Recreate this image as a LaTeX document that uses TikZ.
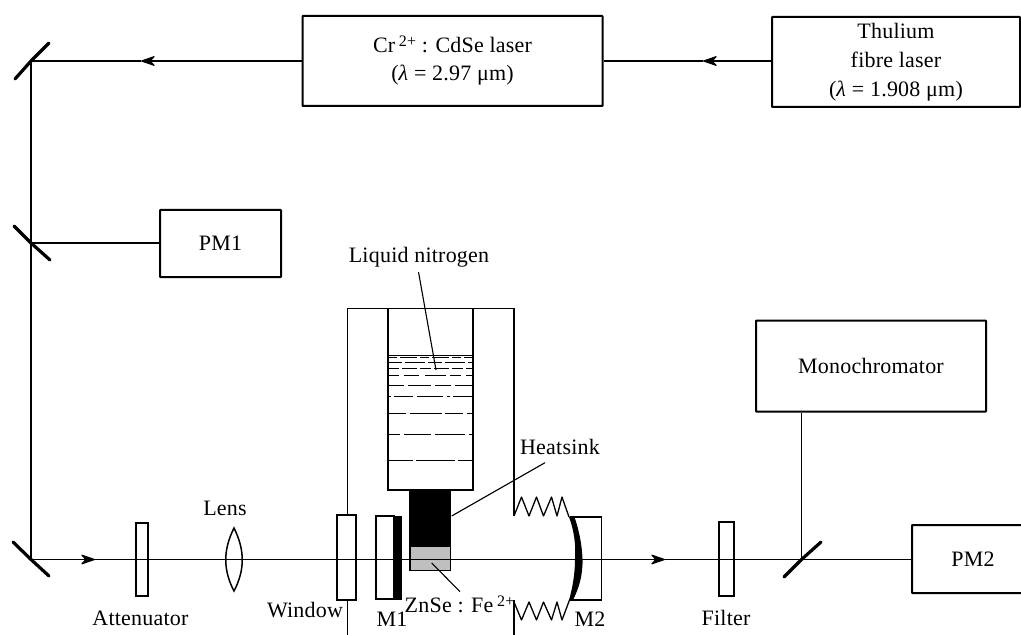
\documentclass[tikz,border=0pt]{standalone}
\usepackage{fontspec}
\setmainfont[LetterSpace=1]{Liberation Serif}
\usetikzlibrary{arrows.meta}
\newcommand{\supr}[1]{\raisebox{0.6ex}{\fontsize{16bp}{16bp}\selectfont #1}}
\tikzset{
  x=1bp,y=-1bp,
  label/.style={inner sep=0pt,font=\fontsize{22bp}{24bp}\selectfont,align=center},
  instr/.style={draw,line width=2bp,inner sep=0pt,rounded corners=0.5bp,font=\fontsize{22bp}{29bp}\selectfont,align=center},
  optic/.style={draw,line width=1.5bp,inner sep=0pt},
  beam/.style={line width=1.1bp},
  beamtip/.style={line width=1.1bp,-{Stealth[length=16bp,width=11bp,inset=5bp,round]}},
  wall/.style={line width=1.4bp},
  mirror/.style={line width=3.2bp,line cap=round},
  leader/.style={line width=1.1bp},
  level/.style={line width=0.9bp},
}
\begin{document}
\begin{tikzpicture}
\useasboundingbox (0,0) rectangle (1021,635);
% beam junction points
\coordinate (mt) at (31,61);
\coordinate (mm) at (31,243);
\coordinate (mb) at (31,559.5);
\coordinate (ms) at (801.5,559.5);
\coordinate (a1) at (141,61);
\coordinate (a2) at (703,61);
\coordinate (a3) at (95,559.5);
\coordinate (a4) at (665,559.5);
% instruments
\node[instr,minimum width=300bp,minimum height=90bp] (cr) at (452.5,61) {Cr\,\supr{2+} : CdSe laser\\[-1bp](\textit{λ} = 2.97 μm)};
\node[instr,minimum width=248bp,minimum height=90bp] (tm) at (896,62) {Thulium\\fibre laser\\(\textit{λ} = 1.908 μm)};
\node[instr,minimum width=121bp,minimum height=67bp] (pmone) at (220.5,243.5) {PM1};
\node[instr,minimum width=230bp,minimum height=91bp] (mono) at (871,366) {Monochromator};
\node[instr,minimum width=122bp,minimum height=68bp] (pmtwo) at (973,559) {PM2};
% optics
\node[optic,minimum width=12bp,minimum height=73bp] (att) at (142,559.5) {};
\node[optic,minimum width=15bp,minimum height=74bp] (flt) at (726.5,559) {};
\node[optic,minimum width=19bp,minimum height=85bp] (win) at (346.5,557.5) {};
\node[optic,minimum width=18bp,minimum height=83bp] (mone) at (385,557.5) {};
% beams
\draw[beamtip] (tm.west |- a2) -- (a2);
\draw[beam] (a2) -- (cr.east |- a2);
\draw[beamtip] (cr.west |- a1) -- (a1);
\draw[beam] (a1) -- (mt);
\draw[beam] (mt) -- (mb);
\draw[beam] (mm) -- (pmone.west |- mm);
\draw[beamtip] (mb) -- (a3);
\draw[beamtip] (a3) -- (a4);
\draw[beam] (a4) -- (pmtwo.west |- a4);
\draw[beam] (ms) -- (ms |- mono.south);
% mirrors
\draw[mirror] (15,79) -- (mt) -- (49,43);
\draw[mirror] (14,226) -- (mm) -- (50,260);
\draw[mirror] (13,542) -- (mb) -- (49,576);
\draw[mirror] (784,577) -- (ms) -- (821,542);
% lens
\draw[line width=1.5bp] (234,528) .. controls (223,550) and (223,570) .. (234,591) .. controls (245,570) and (245,550) .. cycle;
% M1 coating
\fill[black] (394,516) rectangle (402,600);
% cryostat
\coordinate (vbl) at (347.5,635);
\coordinate (vbr) at (514,635);
\draw[wall] (347.5,515) -- (347.5,308.5) -- (514,308.5) -- (514,516);
\draw[wall] (347.5,600) -- (vbl);
\draw[wall] (514,600) -- (vbr);
\draw[wall] (388,308.5) rectangle (473,490);
% nitrogen levels
\draw[level] (388,355) -- (473,355);
\draw[level,dash pattern=on 9bp off 3bp on 17bp off 3bp] (388,357.7) -- (473,357.7);
\draw[level,dash pattern=on 14bp off 3bp on 20bp off 3bp] (388,362) -- (473,362);
\draw[level,dash pattern=on 11bp off 3bp on 15bp off 3bp] (388,368.3) -- (473,368.3);
\draw[level,dash pattern=on 11bp off 5bp on 15bp off 6bp on 21bp off 4bp] (388,375.3) -- (473,375.3);
\draw[level,dash pattern=on 16bp off 4bp on 23bp off 4bp] (388,385) -- (473,385);
\draw[level,dash pattern=on 3bp off 3bp on 19bp off 4bp on 26bp off 4bp] (388,396.7) -- (473,396.7);
\draw[level,dash pattern=on 18bp off 4bp on 32bp off 3bp] (388,413.3) -- (473,413.3);
\draw[level,dash pattern=on 12bp off 4bp on 27bp off 4bp on 30bp off 4bp] (388,434.3) -- (473,434.3);
\draw[level,dash pattern=on 25bp off 3bp on 39bp off 3bp] (388,460.7) -- (473,460.7);
% heatsink and crystal
\fill[black] (409,490) rectangle (451,571);
\fill[black!25] (411,547) rectangle (449.5,569.5);
\draw[beam] (409,559.5) -- (451,559.5);
% M2
\draw[line width=1.4bp] (570,517) -- (601.5,517) -- (601.5,600) -- (570,600);
\fill[black] (569,517) .. controls (574,530) and (576,545) .. (575,559)
  .. controls (575,575) and (572,590) .. (569,600)
  -- (573,600) .. controls (579,588) and (583,575) .. (582.5,559)
  .. controls (582,545) and (579,530) .. (574.5,517) -- cycle;
% springs
\draw[line width=1.3bp,line join=round] (514,516) -- (521.5,497) -- (529,516) -- (536.5,497) -- (543.5,516) -- (551.5,497) -- (557,516) -- (562,497) -- (569,517);
\draw[line width=1.3bp,line join=round] (514,635) -- (514,602) -- (521.5,620) -- (529,602) -- (536.5,620) -- (543.5,602) -- (551.5,620) -- (557,602) -- (562,620) -- (569.5,600);
% labels
\node[label] (lliq) at (419,257) {Liquid nitrogen};
\node[label] (lheat) at (560,447) {Heatsink};
\node[label] (lzn) at (459.5,604) {ZnSe : Fe\,\supr{2+}};
\node[label] (latt) at (140.5,618) {Attenuator};
\node[label] (llens) at (225,508) {Lens};
\node[label] (lwin) at (305,610) {Window};
\node[label] (lmone) at (392,619) {M1};
\node[label] (lmtwo) at (590,619) {M2};
\node[label] (lflt) at (726,618) {Filter};
% leaders
\coordinate (tl) at (436,370);
\coordinate (th) at (451.7,516);
\coordinate (tz) at (431.7,563);
\draw[leader] (418.5,272) -- (tl);
\draw[leader] (th) -- (545,462.7);
\draw[leader] (tz) -- (460,591.7);
\end{tikzpicture}
\end{document}
